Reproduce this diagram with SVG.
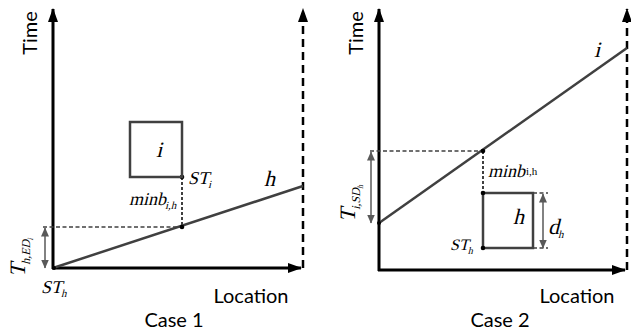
<svg xmlns="http://www.w3.org/2000/svg" width="631" height="333" viewBox="0 0 631 333">
<defs>
<marker id="ah" markerWidth="14" markerHeight="10" refX="13" refY="5" orient="auto" markerUnits="userSpaceOnUse"><path d="M0,0 L14,5 L0,10 Z" fill="#000"/></marker>
<marker id="gh" markerWidth="9" markerHeight="8" refX="8.5" refY="4" orient="auto-start-reverse" markerUnits="userSpaceOnUse"><path d="M0,0 L9,4 L0,8 Z" fill="#595959"/></marker>
</defs>
<style>
.axis{stroke:#000;stroke-width:3;fill:none}
.bound{stroke:#000;stroke-width:2.5;stroke-dasharray:8 5;fill:none}
.line{stroke:#404040;stroke-width:2.5;fill:none}
.box{stroke:#404040;stroke-width:2.5;fill:none}
.dash{stroke:#404040;stroke-width:1.3;stroke-dasharray:4 2.5;fill:none}
.vdash{stroke:#404040;stroke-width:2;stroke-dasharray:3 2;fill:none}
.darr{stroke:#595959;stroke-width:1.5;fill:none}
.lbl{font-family:Lato,'Open Sans','Liberation Sans',sans-serif;font-size:20px;fill:#000}
.m{font-family:'Liberation Serif','Times New Roman',serif;font-style:normal;fill:#000}
.dot{fill:#000}
</style>
<g id="case1">
<g id="connectors1">
<line class="axis" x1="53" y1="269" x2="53" y2="9" marker-end="url(#ah)"/>
<line class="axis" x1="52" y1="268" x2="301" y2="268" marker-end="url(#ah)"/>
<line class="bound" x1="303" y1="268" x2="303" y2="9" marker-end="url(#ah)"/>
<line class="line" x1="53" y1="268" x2="303" y2="186"/>
<line class="dash" x1="43" y1="227" x2="182" y2="227"/>
<line class="vdash" x1="182" y1="177" x2="182" y2="227"/>
<line class="darr" x1="45" y1="228" x2="45" y2="268" marker-start="url(#gh)" marker-end="url(#gh)"/>
<circle class="dot" cx="182" cy="177" r="2.3"/>
<circle class="dot" cx="182" cy="227" r="2.3"/>
<circle class="dot" cx="54" cy="268" r="2"/>
</g>
<g id="node-i1">
<rect class="box" x="130" y="122" width="52" height="55"/>
<text class="m" transform="translate(156,157) skewX(-14)" font-size="22">i</text>
</g>
<text class="m" transform="translate(188,184) skewX(-14)" font-size="18">ST<tspan font-size="11" dy="4">i</tspan></text>
<text class="m" transform="translate(129,205) skewX(-14)" font-size="18">minb<tspan font-size="11" dy="4">i,h</tspan></text>
<text class="m" transform="translate(264,186) skewX(-14)" font-size="22">h</text>
<text class="m" transform="translate(41,293) skewX(-14)" font-size="18">ST<tspan font-size="11" dy="4">h</tspan></text>
<text class="m" transform="translate(25,277) rotate(-90) skewX(-14)" font-size="22">T<tspan font-size="12" dy="5">h,ED</tspan><tspan font-size="8" dy="3">i</tspan></text>
<text class="lbl" transform="translate(37,33) rotate(-90)" text-anchor="middle">Time</text>
<text class="lbl" x="251" y="303" text-anchor="middle">Location</text>
<text class="lbl" x="174" y="327" text-anchor="middle">Case 1</text>
</g>
<g id="case2">
<g id="connectors2">
<line class="axis" x1="379" y1="271" x2="379" y2="9" marker-end="url(#ah)"/>
<line class="axis" x1="378" y1="270" x2="625" y2="270" marker-end="url(#ah)"/>
<line class="bound" x1="627" y1="270" x2="627" y2="9" marker-end="url(#ah)"/>
<line class="line" x1="379" y1="223" x2="627" y2="48"/>
<line class="dash" x1="370" y1="151" x2="483" y2="151"/>
<line class="vdash" x1="483" y1="151" x2="483" y2="193"/>
<line class="darr" x1="371" y1="152" x2="371" y2="223" marker-start="url(#gh)" marker-end="url(#gh)"/>
<line class="dash" x1="533" y1="193" x2="548" y2="193"/>
<line class="dash" x1="533" y1="248" x2="548" y2="248"/>
<line class="darr" x1="543" y1="194" x2="543" y2="248" marker-start="url(#gh)" marker-end="url(#gh)"/>
<circle class="dot" cx="483" cy="151" r="2.3"/>
<circle class="dot" cx="379" cy="223" r="2"/>
</g>
<g id="node-h2">
<rect class="box" x="483" y="193" width="50" height="55"/>
<circle class="dot" cx="483" cy="193" r="2.3"/>
<circle class="dot" cx="483" cy="248" r="2.3"/>
<text class="m" transform="translate(513,224) skewX(-14)" font-size="22">h</text>
</g>
<text class="m" transform="translate(488,177) skewX(-14)" font-size="18">minb</text>
<text class="m" x="526" y="175" font-size="11">i,h</text>
<text class="m" transform="translate(548,234) skewX(-14)" font-size="22">d<tspan font-size="11" dy="4">h</tspan></text>
<text class="m" transform="translate(450,250) skewX(-14)" font-size="16">ST<tspan font-size="10" dy="4">h</tspan></text>
<text class="m" transform="translate(594,57) skewX(-14)" font-size="22">i</text>
<text class="m" transform="translate(355,222) rotate(-90) skewX(-14)" font-size="22">T<tspan font-size="12" dy="5">i,SD</tspan><tspan font-size="8" dy="3">h</tspan></text>
<text class="lbl" transform="translate(363,33) rotate(-90)" text-anchor="middle">Time</text>
<text class="lbl" x="577" y="303" text-anchor="middle">Location</text>
<text class="lbl" x="500" y="327" text-anchor="middle">Case 2</text>
</g>
</svg>
